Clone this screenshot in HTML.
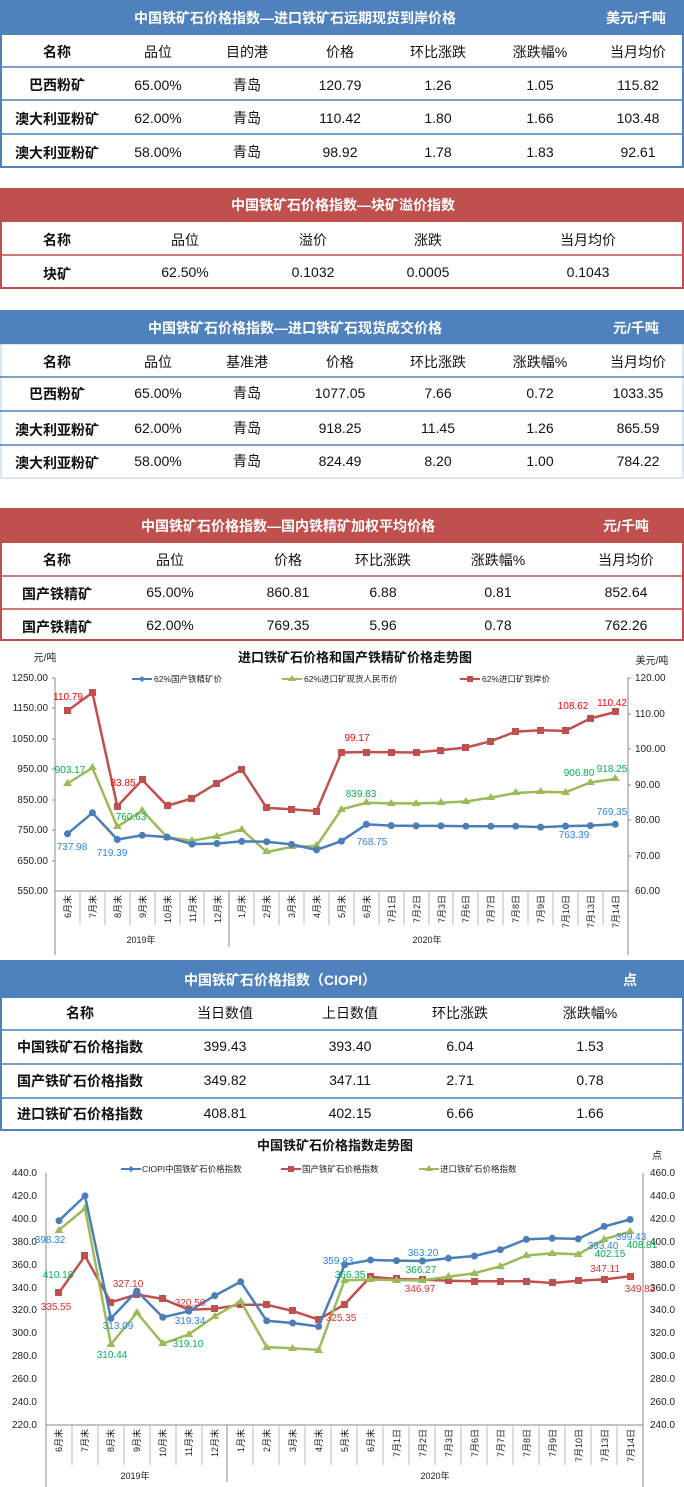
<!DOCTYPE html>
<html><head><meta charset="utf-8"><style>
html,body{margin:0;padding:0;background:#fff;width:684px;height:1487px;overflow:hidden}
svg{display:block}
text{font-family:"Liberation Sans","Noto Sans CJK SC",sans-serif}
.h{fill:#fff;font-weight:bold;font-size:14px}
.c{font-size:14px;fill:#111;text-anchor:middle}
.n{font-size:14px;fill:#111;text-anchor:middle;font-weight:bold}
.t{font-size:10px;fill:#222;text-anchor:end}
.r{font-size:10px;fill:#222;text-anchor:start}
.x{font-size:9px;fill:#222}
.lb{font-size:10px;text-anchor:middle}
</style></head><body>
<svg width="684" height="1487" viewBox="0 0 684 1487" xmlns="http://www.w3.org/2000/svg">
<!-- Table 1 -->
<rect x="0" y="0" width="684" height="34" fill="#4f81bd"/>
<text class="h" x="295" y="23" text-anchor="middle">中国铁矿石价格指数—进口铁矿石远期现货到岸价格</text>
<text class="h" x="636" y="23" text-anchor="middle">美元/千吨</text>
<rect x="1" y="34" width="682" height="133" fill="none" stroke="#4f81bd" stroke-width="2"/>
<g stroke="#4f81bd" stroke-width="1.5"><line x1="0" y1="67" x2="684" y2="67"/><line x1="0" y1="100" x2="684" y2="100"/><line x1="0" y1="134" x2="684" y2="134"/></g>
<g>
<text class="n" x="57" y="57">名称</text><text class="c" x="158" y="57">品位</text><text class="c" x="247" y="57">目的港</text><text class="c" x="340" y="57">价格</text><text class="c" x="438" y="57">环比涨跌</text><text class="c" x="540" y="57">涨跌幅%</text><text class="c" x="638" y="57">当月均价</text>
<text class="n" x="57" y="90">巴西粉矿</text><text class="c" x="158" y="90">65.00%</text><text class="c" x="247" y="90">青岛</text><text class="c" x="340" y="90">120.79</text><text class="c" x="438" y="90">1.26</text><text class="c" x="540" y="90">1.05</text><text class="c" x="638" y="90">115.82</text>
<text class="n" x="57" y="124">澳大利亚粉矿</text><text class="c" x="158" y="123">62.00%</text><text class="c" x="247" y="123">青岛</text><text class="c" x="340" y="123">110.42</text><text class="c" x="438" y="123">1.80</text><text class="c" x="540" y="123">1.66</text><text class="c" x="638" y="123">103.48</text>
<text class="n" x="57" y="158">澳大利亚粉矿</text><text class="c" x="158" y="157">58.00%</text><text class="c" x="247" y="157">青岛</text><text class="c" x="340" y="157">98.92</text><text class="c" x="438" y="157">1.78</text><text class="c" x="540" y="157">1.83</text><text class="c" x="638" y="157">92.61</text>
</g>
<!-- Table 2 -->
<rect x="0" y="188" width="684" height="33" fill="#c0504d"/>
<text class="h" x="343" y="210" text-anchor="middle">中国铁矿石价格指数—块矿溢价指数</text>
<rect x="1" y="221" width="682" height="67" fill="none" stroke="#c0504d" stroke-width="2"/>
<line x1="0" y1="255" x2="684" y2="255" stroke="#c0504d" stroke-width="1.5"/>
<text class="n" x="57" y="245">名称</text><text class="c" x="185" y="245">品位</text><text class="c" x="313" y="245">溢价</text><text class="c" x="428" y="245">涨跌</text><text class="c" x="588" y="245">当月均价</text>
<text class="n" x="57" y="279">块矿</text><text class="c" x="185" y="277">62.50%</text><text class="c" x="313" y="277">0.1032</text><text class="c" x="428" y="277">0.0005</text><text class="c" x="588" y="277">0.1043</text>
<!-- Table 3 -->
<rect x="0" y="310" width="684" height="34" fill="#4f81bd"/>
<text class="h" x="295" y="333" text-anchor="middle">中国铁矿石价格指数—进口铁矿石现货成交价格</text>
<text class="h" x="636" y="333" text-anchor="middle">元/千吨</text>
<rect x="1" y="344" width="682" height="134" fill="none" stroke="#4f81bd" stroke-width="1" stroke-opacity="0.4"/>
<g stroke="#4f81bd" stroke-width="1.5"><line x1="0" y1="377" x2="684" y2="377"/><line x1="0" y1="411" x2="684" y2="411"/><line x1="0" y1="445" x2="684" y2="445"/></g>
<text class="n" x="57" y="367">名称</text><text class="c" x="158" y="367">品位</text><text class="c" x="247" y="367">基准港</text><text class="c" x="340" y="367">价格</text><text class="c" x="438" y="367">环比涨跌</text><text class="c" x="540" y="367">涨跌幅%</text><text class="c" x="638" y="367">当月均价</text>
<text class="n" x="57" y="399">巴西粉矿</text><text class="c" x="158" y="398">65.00%</text><text class="c" x="247" y="398">青岛</text><text class="c" x="340" y="398">1077.05</text><text class="c" x="438" y="398">7.66</text><text class="c" x="540" y="398">0.72</text><text class="c" x="638" y="398">1033.35</text>
<text class="n" x="57" y="435">澳大利亚粉矿</text><text class="c" x="158" y="433">62.00%</text><text class="c" x="247" y="433">青岛</text><text class="c" x="340" y="433">918.25</text><text class="c" x="438" y="433">11.45</text><text class="c" x="540" y="433">1.26</text><text class="c" x="638" y="433">865.59</text>
<text class="n" x="57" y="468">澳大利亚粉矿</text><text class="c" x="158" y="466">58.00%</text><text class="c" x="247" y="466">青岛</text><text class="c" x="340" y="466">824.49</text><text class="c" x="438" y="466">8.20</text><text class="c" x="540" y="466">1.00</text><text class="c" x="638" y="466">784.22</text>
<!-- Table 4 -->
<rect x="0" y="508" width="684" height="34" fill="#c0504d"/>
<text class="h" x="288" y="531" text-anchor="middle">中国铁矿石价格指数—国内铁精矿加权平均价格</text>
<text class="h" x="626" y="531" text-anchor="middle">元/千吨</text>
<rect x="1" y="542" width="682" height="98" fill="none" stroke="#c0504d" stroke-width="2"/>
<g stroke="#c0504d" stroke-width="1.5"><line x1="0" y1="576" x2="684" y2="576"/><line x1="0" y1="609" x2="684" y2="609"/></g>
<text class="n" x="57" y="565">名称</text><text class="c" x="170" y="565">品位</text><text class="c" x="288" y="565">价格</text><text class="c" x="383" y="565">环比涨跌</text><text class="c" x="498" y="565">涨跌幅%</text><text class="c" x="626" y="565">当月均价</text>
<text class="n" x="57" y="599">国产铁精矿</text><text class="c" x="170" y="597">65.00%</text><text class="c" x="288" y="597">860.81</text><text class="c" x="383" y="597">6.88</text><text class="c" x="498" y="597">0.81</text><text class="c" x="626" y="597">852.64</text>
<text class="n" x="57" y="632">国产铁精矿</text><text class="c" x="170" y="630">62.00%</text><text class="c" x="288" y="630">769.35</text><text class="c" x="383" y="630">5.96</text><text class="c" x="498" y="630">0.78</text><text class="c" x="626" y="630">762.26</text>

<!-- Chart 1 -->
<text x="355" y="662" text-anchor="middle" style="font-size:13px;font-weight:bold;fill:#111">进口铁矿石价格和国产铁精矿价格走势图</text>
<text x="45" y="661" text-anchor="middle" style="font-size:10px;fill:#222">元/吨</text>
<text x="652" y="664" text-anchor="middle" style="font-size:10px;fill:#222">美元/吨</text>
<g stroke="#4a7ebb" stroke-width="2"><line x1="132" y1="679" x2="152" y2="679"/></g><path d="M142 676 l3 3 -3 3 -3 -3z" fill="#4a7ebb"/>
<text x="154" y="682" style="font-size:8.5px;fill:#222">62%国产铁精矿价</text>
<line x1="282" y1="679" x2="302" y2="679" stroke="#9bbb59" stroke-width="2"/><path d="M292 675 l4 6 h-8z" fill="#9bbb59"/>
<text x="304" y="682" style="font-size:8.5px;fill:#222">62%进口矿现货人民币价</text>
<line x1="460" y1="679" x2="480" y2="679" stroke="#c0504d" stroke-width="2"/><rect x="467" y="676" width="6" height="6" fill="#c0504d"/>
<text x="482" y="682" style="font-size:8.5px;fill:#222">62%进口矿到岸价</text>
<g stroke="#888" stroke-width="1" fill="none">
<line x1="55" y1="678" x2="55" y2="955"/><line x1="628" y1="678" x2="628" y2="955"/>
<line x1="55" y1="891" x2="628" y2="891"/>
<line x1="229" y1="891" x2="229" y2="947"/>
</g>
<g stroke="#888" stroke-width="1"><line x1="52" y1="678" x2="55" y2="678"/><line x1="52" y1="708" x2="55" y2="708"/><line x1="52" y1="739" x2="55" y2="739"/><line x1="52" y1="769" x2="55" y2="769"/><line x1="52" y1="800" x2="55" y2="800"/><line x1="52" y1="830" x2="55" y2="830"/><line x1="52" y1="861" x2="55" y2="861"/>
<line x1="628" y1="678" x2="631" y2="678"/><line x1="628" y1="714" x2="631" y2="714"/><line x1="628" y1="749" x2="631" y2="749"/><line x1="628" y1="785" x2="631" y2="785"/><line x1="628" y1="820" x2="631" y2="820"/><line x1="628" y1="856" x2="631" y2="856"/></g>
<g stroke="#bbb" stroke-width="1">
<line x1="80" y1="891" x2="80" y2="925"/><line x1="105" y1="891" x2="105" y2="925"/><line x1="130" y1="891" x2="130" y2="925"/><line x1="155" y1="891" x2="155" y2="925"/><line x1="180" y1="891" x2="180" y2="925"/><line x1="204" y1="891" x2="204" y2="925"/><line x1="254" y1="891" x2="254" y2="925"/><line x1="279" y1="891" x2="279" y2="925"/><line x1="304" y1="891" x2="304" y2="925"/><line x1="329" y1="891" x2="329" y2="925"/><line x1="354" y1="891" x2="354" y2="925"/><line x1="379" y1="891" x2="379" y2="925"/><line x1="404" y1="891" x2="404" y2="925"/><line x1="429" y1="891" x2="429" y2="925"/><line x1="453" y1="891" x2="453" y2="925"/><line x1="478" y1="891" x2="478" y2="925"/><line x1="503" y1="891" x2="503" y2="925"/><line x1="528" y1="891" x2="528" y2="925"/><line x1="553" y1="891" x2="553" y2="925"/><line x1="578" y1="891" x2="578" y2="925"/><line x1="603" y1="891" x2="603" y2="925"/>
</g>
<g class="t"><text class="t" x="48" y="681">1250.00</text><text class="t" x="48" y="711">1150.00</text><text class="t" x="48" y="742">1050.00</text><text class="t" x="48" y="772">950.00</text><text class="t" x="48" y="803">850.00</text><text class="t" x="48" y="833">750.00</text><text class="t" x="48" y="864">650.00</text><text class="t" x="48" y="894">550.00</text></g>
<g><text class="r" x="635" y="681">120.00</text><text class="r" x="635" y="717">110.00</text><text class="r" x="635" y="752">100.00</text><text class="r" x="635" y="788">90.00</text><text class="r" x="635" y="823">80.00</text><text class="r" x="635" y="859">70.00</text><text class="r" x="635" y="894">60.00</text></g>
<g class="x" text-anchor="end">
<text transform="translate(71,895) rotate(-90)">6月末</text><text transform="translate(96,895) rotate(-90)">7月末</text><text transform="translate(121,895) rotate(-90)">8月末</text><text transform="translate(146,895) rotate(-90)">9月末</text><text transform="translate(171,895) rotate(-90)">10月末</text><text transform="translate(196,895) rotate(-90)">11月末</text><text transform="translate(221,895) rotate(-90)">12月末</text><text transform="translate(245,895) rotate(-90)">1月末</text><text transform="translate(270,895) rotate(-90)">2月末</text><text transform="translate(295,895) rotate(-90)">3月末</text><text transform="translate(320,895) rotate(-90)">4月末</text><text transform="translate(345,895) rotate(-90)">5月末</text><text transform="translate(370,895) rotate(-90)">6月末</text><text transform="translate(395,895) rotate(-90)">7月1日</text><text transform="translate(420,895) rotate(-90)">7月2日</text><text transform="translate(445,895) rotate(-90)">7月3日</text><text transform="translate(469,895) rotate(-90)">7月6日</text><text transform="translate(494,895) rotate(-90)">7月7日</text><text transform="translate(519,895) rotate(-90)">7月8日</text><text transform="translate(544,895) rotate(-90)">7月9日</text><text transform="translate(569,895) rotate(-90)">7月10日</text><text transform="translate(594,895) rotate(-90)">7月13日</text><text transform="translate(619,895) rotate(-90)">7月14日</text>
</g>
<text x="141" y="943" text-anchor="middle" style="font-size:9px;fill:#222">2019年</text>
<text x="427" y="943" text-anchor="middle" style="font-size:9px;fill:#222">2020年</text>
<polyline fill="none" stroke="#c0504d" stroke-width="2.5" points="67.5,710.7 92.4,692.6 117.3,806.3 142.2,779.9 167.1,805.8 192,798.3 216.9,783.1 241.8,769.6 266.7,807.9 291.6,809.3 316.5,811.1 341.4,752.5 366.3,752 391.2,752.3 416.1,752.5 441,750.1 465.9,747.6 490.8,741.2 515.7,731.6 540.6,730.2 565.5,730.9 590.4,718.4 615.3,712"/>
<g fill="#c0504d"><rect x="64" y="707" width="7" height="7"/><rect x="89" y="689" width="7" height="7"/><rect x="114" y="803" width="7" height="7"/><rect x="139" y="776" width="7" height="7"/><rect x="164" y="802" width="7" height="7"/><rect x="188" y="795" width="7" height="7"/><rect x="213" y="780" width="7" height="7"/><rect x="238" y="766" width="7" height="7"/><rect x="263" y="804" width="7" height="7"/><rect x="288" y="806" width="7" height="7"/><rect x="313" y="808" width="7" height="7"/><rect x="338" y="749" width="7" height="7"/><rect x="363" y="749" width="7" height="7"/><rect x="388" y="749" width="7" height="7"/><rect x="413" y="749" width="7" height="7"/><rect x="437" y="747" width="7" height="7"/><rect x="462" y="744" width="7" height="7"/><rect x="487" y="738" width="7" height="7"/><rect x="512" y="728" width="7" height="7"/><rect x="537" y="727" width="7" height="7"/><rect x="562" y="727" width="7" height="7"/><rect x="587" y="715" width="7" height="7"/><rect x="612" y="708" width="7" height="7"/></g>
<polyline fill="none" stroke="#9bbb59" stroke-width="2.5" points="67.5,783.5 92.4,767.8 117.3,826.9 142.2,810.4 167.1,837.1 192,840.8 216.9,836.2 241.8,829.5 266.7,852 291.6,846.9 316.5,846 341.4,809.4 366.3,802.8 391.2,803.4 416.1,803.4 441,802.8 465.9,801.5 490.8,797.6 515.7,793 540.6,791.8 565.5,792.4 590.4,782.4 615.3,778.9"/>
<g fill="#9bbb59"><path d="M67.5 779 l4.5 7 h-9z"/><path d="M92.4 763 l4.5 7 h-9z"/><path d="M117.3 822 l4.5 7 h-9z"/><path d="M142.2 806 l4.5 7 h-9z"/><path d="M167.1 833 l4.5 7 h-9z"/><path d="M192 836 l4.5 7 h-9z"/><path d="M216.9 832 l4.5 7 h-9z"/><path d="M241.8 825 l4.5 7 h-9z"/><path d="M266.7 847 l4.5 7 h-9z"/><path d="M291.6 842 l4.5 7 h-9z"/><path d="M316.5 841 l4.5 7 h-9z"/><path d="M341.4 805 l4.5 7 h-9z"/><path d="M366.3 798 l4.5 7 h-9z"/><path d="M391.2 799 l4.5 7 h-9z"/><path d="M416.1 799 l4.5 7 h-9z"/><path d="M441 798 l4.5 7 h-9z"/><path d="M465.9 797 l4.5 7 h-9z"/><path d="M490.8 793 l4.5 7 h-9z"/><path d="M515.7 788 l4.5 7 h-9z"/><path d="M540.6 787 l4.5 7 h-9z"/><path d="M565.5 788 l4.5 7 h-9z"/><path d="M590.4 778 l4.5 7 h-9z"/><path d="M615.3 774 l4.5 7 h-9z"/></g>
<polyline fill="none" stroke="#4a7ebb" stroke-width="2.5" points="67.5,833.8 92.4,812.8 117.3,839.5 142.2,835.3 167.1,837.1 192,844.1 216.9,843.5 241.8,841.4 266.7,841.7 291.6,844.4 316.5,849.9 341.4,841.1 366.3,824.4 391.2,825.6 416.1,825.9 441,825.9 465.9,826.2 490.8,826.2 515.7,826.2 540.6,827.1 565.5,826.1 590.4,825.6 615.3,824.3"/>
<g fill="#4a7ebb"><circle cx="67.5" cy="833.8" r="3.5"/><circle cx="92.4" cy="812.8" r="3.5"/><circle cx="117.3" cy="839.5" r="3.5"/><circle cx="142.2" cy="835.3" r="3.5"/><circle cx="167.1" cy="837.1" r="3.5"/><circle cx="192" cy="844.1" r="3.5"/><circle cx="216.9" cy="843.5" r="3.5"/><circle cx="241.8" cy="841.4" r="3.5"/><circle cx="266.7" cy="841.7" r="3.5"/><circle cx="291.6" cy="844.4" r="3.5"/><circle cx="316.5" cy="849.9" r="3.5"/><circle cx="341.4" cy="841.1" r="3.5"/><circle cx="366.3" cy="824.4" r="3.5"/><circle cx="391.2" cy="825.6" r="3.5"/><circle cx="416.1" cy="825.9" r="3.5"/><circle cx="441" cy="825.9" r="3.5"/><circle cx="465.9" cy="826.2" r="3.5"/><circle cx="490.8" cy="826.2" r="3.5"/><circle cx="515.7" cy="826.2" r="3.5"/><circle cx="540.6" cy="827.1" r="3.5"/><circle cx="565.5" cy="826.1" r="3.5"/><circle cx="590.4" cy="825.6" r="3.5"/><circle cx="615.3" cy="824.3" r="3.5"/></g>
<g class="lb" fill="#ff0000"><text x="68" y="700">110.79</text><text x="123" y="786">83.85</text><text x="357" y="741">99.17</text><text x="573" y="709">108.62</text><text x="612" y="706">110.42</text></g>
<g class="lb" fill="#00b050"><text x="70" y="773">903.17</text><text x="131" y="820">760.63</text><text x="361" y="797">839.83</text><text x="579" y="776">906.80</text><text x="612" y="772">918.25</text></g>
<g class="lb" fill="#2e86de"><text x="72" y="850">737.98</text><text x="112" y="856">719.39</text><text x="372" y="845">768.75</text><text x="574" y="838">763.39</text><text x="612" y="815">769.35</text></g>

<!-- Table 5 -->
<rect x="0" y="960" width="684" height="37" fill="#4f81bd"/>
<text class="h" x="280" y="985" text-anchor="middle">中国铁矿石价格指数（CIOPI）</text>
<text class="h" x="630" y="985" text-anchor="middle">点</text>
<rect x="1" y="997" width="682" height="133" fill="none" stroke="#4f81bd" stroke-width="2"/>
<g stroke="#4f81bd" stroke-width="1.5"><line x1="0" y1="1030" x2="684" y2="1030"/><line x1="0" y1="1064" x2="684" y2="1064"/><line x1="0" y1="1098" x2="684" y2="1098"/></g>
<text class="n" x="80" y="1018">名称</text><text class="c" x="225" y="1018">当日数值</text><text class="c" x="350" y="1018">上日数值</text><text class="c" x="460" y="1018">环比涨跌</text><text class="c" x="590" y="1018">涨跌幅%</text>
<text class="n" x="80" y="1052">中国铁矿石价格指数</text><text class="c" x="225" y="1051">399.43</text><text class="c" x="350" y="1051">393.40</text><text class="c" x="460" y="1051">6.04</text><text class="c" x="590" y="1051">1.53</text>
<text class="n" x="80" y="1086">国产铁矿石价格指数</text><text class="c" x="225" y="1085">349.82</text><text class="c" x="350" y="1085">347.11</text><text class="c" x="460" y="1085">2.71</text><text class="c" x="590" y="1085">0.78</text>
<text class="n" x="80" y="1119">进口铁矿石价格指数</text><text class="c" x="225" y="1118">408.81</text><text class="c" x="350" y="1118">402.15</text><text class="c" x="460" y="1118">6.66</text><text class="c" x="590" y="1118">1.66</text>

<!-- Chart 2 -->
<text x="335" y="1150" text-anchor="middle" style="font-size:13px;font-weight:bold;fill:#111">中国铁矿石价格指数走势图</text>
<text x="657" y="1159" text-anchor="middle" style="font-size:10px;fill:#222">点</text>
<line x1="121" y1="1169" x2="141" y2="1169" stroke="#4a7ebb" stroke-width="2"/><path d="M131 1166 l3 3 -3 3 -3 -3z" fill="#4a7ebb"/>
<text x="142" y="1172" style="font-size:8.5px;fill:#222">CIOPI中国铁矿石价格指数</text>
<line x1="281" y1="1169" x2="301" y2="1169" stroke="#c0504d" stroke-width="2"/><rect x="288" y="1166" width="6" height="6" fill="#c0504d"/>
<text x="302" y="1172" style="font-size:8.5px;fill:#222">国产铁矿石价格指数</text>
<line x1="419" y1="1169" x2="439" y2="1169" stroke="#9bbb59" stroke-width="2"/><path d="M429 1165 l4 6 h-8z" fill="#9bbb59"/>
<text x="440" y="1172" style="font-size:8.5px;fill:#222">进口铁矿石价格指数</text>
<g stroke="#888" stroke-width="1"><line x1="46" y1="1173" x2="46" y2="1487"/><line x1="643" y1="1173" x2="643" y2="1487"/><line x1="46" y1="1425" x2="643" y2="1425"/><line x1="227" y1="1425" x2="227" y2="1482"/></g>
<g stroke="#bbb" stroke-width="1">
<line x1="72" y1="1425" x2="72" y2="1465"/><line x1="98" y1="1425" x2="98" y2="1465"/><line x1="124" y1="1425" x2="124" y2="1465"/><line x1="150" y1="1425" x2="150" y2="1465"/><line x1="176" y1="1425" x2="176" y2="1465"/><line x1="202" y1="1425" x2="202" y2="1465"/><line x1="253" y1="1425" x2="253" y2="1465"/><line x1="279" y1="1425" x2="279" y2="1465"/><line x1="305" y1="1425" x2="305" y2="1465"/><line x1="331" y1="1425" x2="331" y2="1465"/><line x1="357" y1="1425" x2="357" y2="1465"/><line x1="383" y1="1425" x2="383" y2="1465"/><line x1="409" y1="1425" x2="409" y2="1465"/><line x1="435" y1="1425" x2="435" y2="1465"/><line x1="461" y1="1425" x2="461" y2="1465"/><line x1="487" y1="1425" x2="487" y2="1465"/><line x1="513" y1="1425" x2="513" y2="1465"/><line x1="539" y1="1425" x2="539" y2="1465"/><line x1="565" y1="1425" x2="565" y2="1465"/><line x1="591" y1="1425" x2="591" y2="1465"/><line x1="617" y1="1425" x2="617" y2="1465"/>
</g>
<g><text class="t" x="37" y="1176">440.0</text><text class="t" x="37" y="1199">420.0</text><text class="t" x="37" y="1222">400.0</text><text class="t" x="37" y="1245">380.0</text><text class="t" x="37" y="1268">360.0</text><text class="t" x="37" y="1291">340.0</text><text class="t" x="37" y="1313">320.0</text><text class="t" x="37" y="1336">300.0</text><text class="t" x="37" y="1359">280.0</text><text class="t" x="37" y="1382">260.0</text><text class="t" x="37" y="1405">240.0</text><text class="t" x="37" y="1428">220.0</text></g>
<g><text class="r" x="650" y="1176">460.0</text><text class="r" x="650" y="1199">440.0</text><text class="r" x="650" y="1222">420.0</text><text class="r" x="650" y="1245">400.0</text><text class="r" x="650" y="1268">380.0</text><text class="r" x="650" y="1291">360.0</text><text class="r" x="650" y="1313">340.0</text><text class="r" x="650" y="1336">320.0</text><text class="r" x="650" y="1359">300.0</text><text class="r" x="650" y="1382">280.0</text><text class="r" x="650" y="1405">260.0</text><text class="r" x="650" y="1428">240.0</text></g>
<g class="x" text-anchor="end">
<text transform="translate(62,1429) rotate(-90)">6月末</text><text transform="translate(88,1429) rotate(-90)">7月末</text><text transform="translate(114,1429) rotate(-90)">8月末</text><text transform="translate(140,1429) rotate(-90)">9月末</text><text transform="translate(166,1429) rotate(-90)">10月末</text><text transform="translate(192,1429) rotate(-90)">11月末</text><text transform="translate(218,1429) rotate(-90)">12月末</text><text transform="translate(244,1429) rotate(-90)">1月末</text><text transform="translate(270,1429) rotate(-90)">2月末</text><text transform="translate(296,1429) rotate(-90)">3月末</text><text transform="translate(322,1429) rotate(-90)">4月末</text><text transform="translate(348,1429) rotate(-90)">5月末</text><text transform="translate(374,1429) rotate(-90)">6月末</text><text transform="translate(400,1429) rotate(-90)">7月1日</text><text transform="translate(426,1429) rotate(-90)">7月2日</text><text transform="translate(452,1429) rotate(-90)">7月3日</text><text transform="translate(478,1429) rotate(-90)">7月6日</text><text transform="translate(504,1429) rotate(-90)">7月7日</text><text transform="translate(530,1429) rotate(-90)">7月8日</text><text transform="translate(556,1429) rotate(-90)">7月9日</text><text transform="translate(582,1429) rotate(-90)">7月10日</text><text transform="translate(608,1429) rotate(-90)">7月13日</text><text transform="translate(634,1429) rotate(-90)">7月14日</text>
</g>
<text x="135" y="1479" text-anchor="middle" style="font-size:9px;fill:#222">2019年</text>
<text x="435" y="1479" text-anchor="middle" style="font-size:9px;fill:#222">2020年</text>
<polyline fill="none" stroke="#c0504d" stroke-width="2.5" points="59,1292.6 85,1256 110.9,1302.3 136.9,1294.4 162.8,1299 188.8,1309.8 214.8,1308.7 240.7,1304.7 266.7,1304.7 292.6,1311 318.6,1319.6 344.6,1304.3 370.5,1276.7 396.5,1279 422.4,1279.6 448.4,1280.7 474.4,1281.2 500.3,1281.2 526.3,1281.2 552.2,1283 578.2,1280.7 604.2,1279.4 630.1,1276.3"/>
<g fill="#c0504d"><rect x="55" y="1289" width="7" height="7"/><rect x="81" y="1252" width="7" height="7"/><rect x="107" y="1299" width="7" height="7"/><rect x="133" y="1291" width="7" height="7"/><rect x="159" y="1295" width="7" height="7"/><rect x="185" y="1306" width="7" height="7"/><rect x="211" y="1305" width="7" height="7"/><rect x="237" y="1301" width="7" height="7"/><rect x="263" y="1301" width="7" height="7"/><rect x="289" y="1307" width="7" height="7"/><rect x="315" y="1316" width="7" height="7"/><rect x="341" y="1301" width="7" height="7"/><rect x="367" y="1273" width="7" height="7"/><rect x="393" y="1275" width="7" height="7"/><rect x="419" y="1276" width="7" height="7"/><rect x="445" y="1277" width="7" height="7"/><rect x="471" y="1278" width="7" height="7"/><rect x="497" y="1278" width="7" height="7"/><rect x="523" y="1278" width="7" height="7"/><rect x="549" y="1279" width="7" height="7"/><rect x="575" y="1277" width="7" height="7"/><rect x="601" y="1276" width="7" height="7"/><rect x="627" y="1273" width="7" height="7"/></g>
<polyline fill="none" stroke="#9bbb59" stroke-width="2.5" points="59,1230.1 85,1208.5 110.9,1344.3 136.9,1312.7 162.8,1343.7 188.8,1334.4 214.8,1316.2 240.7,1301.3 266.7,1347.1 292.6,1348.3 318.6,1350 344.6,1280.3 370.5,1279.5 396.5,1280.1 422.4,1280.4 448.4,1276.7 474.4,1273.2 500.3,1266.3 526.3,1255.5 552.2,1253.2 578.2,1254.3 604.2,1239.3 630.1,1231.6"/>
<g fill="#9bbb59"><path d="M59 1226 l4.5 7 h-9z"/><path d="M85 1204 l4.5 7 h-9z"/><path d="M110.9 1340 l4.5 7 h-9z"/><path d="M136.9 1308 l4.5 7 h-9z"/><path d="M162.8 1339 l4.5 7 h-9z"/><path d="M188.8 1330 l4.5 7 h-9z"/><path d="M214.8 1312 l4.5 7 h-9z"/><path d="M240.7 1297 l4.5 7 h-9z"/><path d="M266.7 1343 l4.5 7 h-9z"/><path d="M292.6 1344 l4.5 7 h-9z"/><path d="M318.6 1346 l4.5 7 h-9z"/><path d="M344.6 1276 l4.5 7 h-9z"/><path d="M370.5 1275 l4.5 7 h-9z"/><path d="M396.5 1276 l4.5 7 h-9z"/><path d="M422.4 1276 l4.5 7 h-9z"/><path d="M448.4 1272 l4.5 7 h-9z"/><path d="M474.4 1269 l4.5 7 h-9z"/><path d="M500.3 1262 l4.5 7 h-9z"/><path d="M526.3 1251 l4.5 7 h-9z"/><path d="M552.2 1249 l4.5 7 h-9z"/><path d="M578.2 1250 l4.5 7 h-9z"/><path d="M604.2 1235 l4.5 7 h-9z"/><path d="M630.1 1227 l4.5 7 h-9z"/></g>
<polyline fill="none" stroke="#4a7ebb" stroke-width="2.5" points="59,1220.7 85,1195.9 110.9,1318.4 136.9,1291 162.8,1317.3 188.8,1311.2 214.8,1295.6 240.7,1281.8 266.7,1320.8 292.6,1323 318.6,1326.5 344.6,1264.8 370.5,1260 396.5,1260.6 422.4,1261 448.4,1258.3 474.4,1256 500.3,1249.7 526.3,1239.4 552.2,1238.3 578.2,1238.9 604.2,1226.4 630.1,1219.5"/>
<g fill="#4a7ebb"><circle cx="59" cy="1220.7" r="3.5"/><circle cx="85" cy="1195.9" r="3.5"/><circle cx="110.9" cy="1318.4" r="3.5"/><circle cx="136.9" cy="1291" r="3.5"/><circle cx="162.8" cy="1317.3" r="3.5"/><circle cx="188.8" cy="1311.2" r="3.5"/><circle cx="214.8" cy="1295.6" r="3.5"/><circle cx="240.7" cy="1281.8" r="3.5"/><circle cx="266.7" cy="1320.8" r="3.5"/><circle cx="292.6" cy="1323" r="3.5"/><circle cx="318.6" cy="1326.5" r="3.5"/><circle cx="344.6" cy="1264.8" r="3.5"/><circle cx="370.5" cy="1260" r="3.5"/><circle cx="396.5" cy="1260.6" r="3.5"/><circle cx="422.4" cy="1261" r="3.5"/><circle cx="448.4" cy="1258.3" r="3.5"/><circle cx="474.4" cy="1256" r="3.5"/><circle cx="500.3" cy="1249.7" r="3.5"/><circle cx="526.3" cy="1239.4" r="3.5"/><circle cx="552.2" cy="1238.3" r="3.5"/><circle cx="578.2" cy="1238.9" r="3.5"/><circle cx="604.2" cy="1226.4" r="3.5"/><circle cx="630.1" cy="1219.5" r="3.5"/></g>
<g class="lb" fill="#2e86de"><text x="50" y="1243">398.32</text><text x="118" y="1329">313.09</text><text x="190" y="1324">319.34</text><text x="338" y="1264">359.83</text><text x="423" y="1256">363.20</text><text x="603" y="1249">393.40</text><text x="631" y="1240">399.43</text></g>
<g class="lb" fill="#e03030"><text x="56" y="1310">335.55</text><text x="128" y="1287">327.10</text><text x="190" y="1306">320.56</text><text x="341" y="1321">325.35</text><text x="420" y="1292">346.97</text><text x="605" y="1272">347.11</text><text x="640" y="1292">349.82</text></g>
<g class="lb" fill="#00b050"><text x="58" y="1278">410.18</text><text x="112" y="1358">310.44</text><text x="188" y="1347">319.10</text><text x="350" y="1278">366.35</text><text x="421" y="1273">366.27</text><text x="610" y="1257">402.15</text><text x="642" y="1248">408.81</text></g>
</svg>
</body></html>
